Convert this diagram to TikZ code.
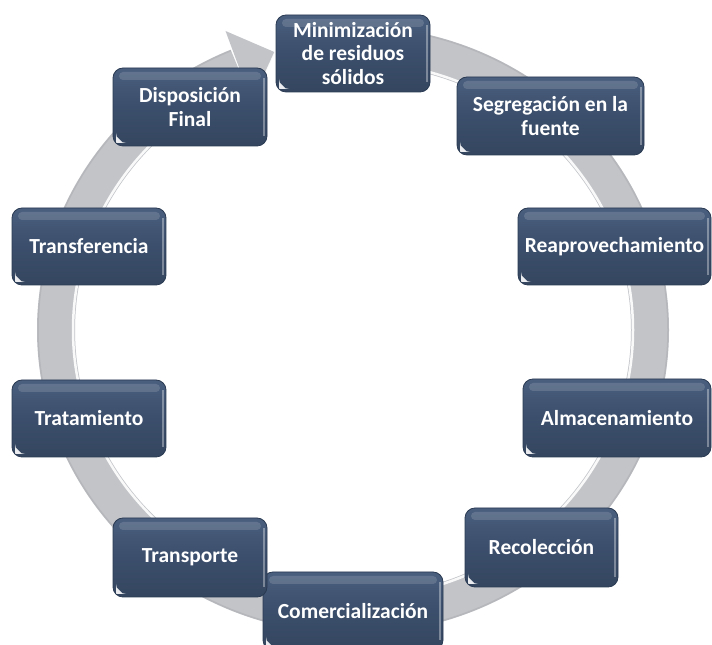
\documentclass[tikz,border=0pt]{standalone}
\usepackage{fontspec}
\setmainfont{Carlito}
\definecolor{boxtop}{HTML}{4A5F7E}
\definecolor{boxmid}{HTML}{3B4E6B}
\definecolor{boxbot}{HTML}{34465F}
\definecolor{boxedge}{HTML}{2A3A52}
\definecolor{ringgrey}{HTML}{C2C4C8}
\definecolor{ringdark}{HTML}{A9ABB0}
\tikzset{
  stagebox/.style={
    rounded corners=10pt, top color=boxtop, bottom color=boxbot, middle color=boxmid,
    draw=boxedge, line width=0.8pt,
    text=white, font=\fontsize{21.5}{23.5}\selectfont\bfseries, align=center,
    minimum height=77pt, inner sep=1pt,
    path picture={
      \fill[white,opacity=0.14,rounded corners=4pt]
        ([xshift=6pt,yshift=-4pt]path picture bounding box.north west) rectangle
        ([xshift=-6pt,yshift=-12pt]path picture bounding box.north east);
      \fill[white,opacity=0.9]
        ([xshift=3pt,yshift=3pt]path picture bounding box.south west) -- ++(7pt,0) -- ++(-7pt,7pt) -- cycle;
      \draw[white,opacity=0.35,line width=1.5pt]
        ([xshift=-3pt,yshift=-10pt]path picture bounding box.north east) --
        ([xshift=-3pt,yshift=10pt]path picture bounding box.south east);
    }
  }
}
\begin{document}
\begin{tikzpicture}[x=1pt,y=1pt]
\clip (0,0) rectangle (712,645);
\fill[white] (0,0) rectangle (712,645);
% ring
\coordinate (rc) at (353,315);
\draw[line width=38pt, ringgrey] (353,600) arc[start angle=90, end angle=-247.2, x radius=297, y radius=285];
\draw[line width=2.5pt, white, opacity=0.9] (353,583) arc[start angle=90, end angle=-247.2, x radius=280, y radius=268];
\draw[line width=1.5pt, ringdark, opacity=0.5] (353,618) arc[start angle=90, end angle=-247.2, x radius=315, y radius=303];
% arrow head
\coordinate (hb1) at (225.5,614);
\coordinate (hb2) at (252.1,542.5);
\coordinate (htip) at (275,592.7);
\fill[ringgrey] (hb1) -- (htip) -- (hb2) -- cycle;
\draw[white, line width=1.5pt, opacity=0.9] (htip) -- (hb2);
% boxes
\node[stagebox, minimum width=154pt] (min) at (353,591.5) {Minimización\\de residuos\\sólidos};
\node[stagebox, minimum width=187pt, minimum height=78pt] (seg) at (550.5,529) {Segregación en la\\fuente};
\node[stagebox, minimum width=193pt] (rea) at (614.5,398.5) {Reaprovechamiento};
\node[stagebox, minimum width=188pt, minimum height=78pt] (alm) at (617,227) {Almacenamiento};
\node[stagebox, minimum width=153pt, minimum height=79pt] (rec) at (541.5,97.5) {Recolección};
\node[stagebox, minimum width=180pt, minimum height=78pt] (com) at (353,34) {Comercialización};
\node[stagebox, minimum width=154pt, minimum height=79pt] (tra) at (190,87.5) {Transporte};
\node[stagebox, minimum width=154pt] (trat) at (89,226.5) {Tratamiento};
\node[stagebox, minimum width=154pt] (trans) at (89,398.5) {Transferencia};
\node[stagebox, minimum width=154pt, minimum height=78pt] (dis) at (190,538) {Disposición\\Final};
\end{tikzpicture}
\end{document}
